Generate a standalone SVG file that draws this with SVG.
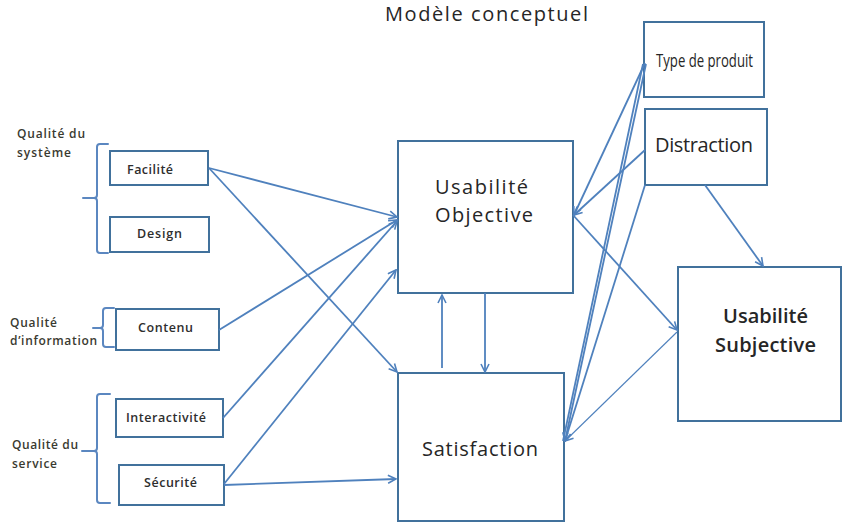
<svg xmlns="http://www.w3.org/2000/svg" width="843" height="527" viewBox="0 0 843 527">
<style>
  .box { fill: #ffffff; stroke: #41719C; stroke-width: 2; }
  .conn { stroke: #4F81BD; stroke-width: 1.8; fill: none; }
  .thin { stroke: #4F81BD; stroke-width: 1.1; fill: none; }
  .brace { stroke: #5B87C0; stroke-width: 2; fill: none; stroke-linecap: round; stroke-linejoin: round; }
  text { font-family: "Open Sans", "Liberation Sans", sans-serif; fill: #262626; }
  .big { font-size: 20px; text-anchor: middle; }
  .small { font-size: 12.5px; text-anchor: middle; font-weight: 600; fill: #2e2e2e; }
  .grp { font-size: 12px; fill: #3a3a30; font-weight: 600; }
</style>
<defs>
  <marker id="ah" viewBox="0 0 10 10" refX="9" refY="5" markerWidth="10" markerHeight="10" markerUnits="userSpaceOnUse" orient="auto">
    <path d="M1,1 L9,5 L1,9" fill="none" stroke="#4F81BD" stroke-width="1.6"/>
  </marker>
</defs>
<rect width="843" height="527" fill="#ffffff"/>

<text x="486.5" y="21" font-size="20" text-anchor="middle" textLength="203" fill="#262626">Modèle conceptuel</text>

<g id="braces">
  <path class="brace" d="M108,144 L100,144 Q97,144 97,147 L97,195 Q97,198 94,198 L83,198 M94,198 Q97,198 97,201 L97,250 Q97,253 100,253 L108,253"/>
  <path class="brace" d="M114,308 L106,308 Q103,308 103,311 L103,325 Q103,328 100,328 L93,328 M100,328 Q103,328 103,331 L103,344 Q103,347 106,347 L114,347"/>
  <path class="brace" d="M110,394 L100,394 Q97,394 97,397 L97,448 Q97,451 94,451 L82,451 M94,451 Q97,451 97,454 L97,500 Q97,503 100,503 L110,503"/>
</g>

<g id="labels">
  <text class="grp" x="17" y="138" textLength="68">Qualité du</text>
  <text class="grp" x="17" y="157" textLength="54">système</text>
  <text class="grp" x="10" y="327" textLength="47">Qualité</text>
  <text class="grp" x="10" y="345" textLength="87">d’information</text>
  <text class="grp" x="12" y="449" textLength="66">Qualité du</text>
  <text class="grp" x="12" y="468" textLength="45">service</text>
</g>

<g id="facilite">
  <rect class="box" x="110" y="151" width="98" height="34"/>
  <text class="small" x="150" y="174" textLength="46">Facilité</text>
</g>
<g id="design">
  <rect class="box" x="110" y="217" width="99" height="35"/>
  <text class="small" x="159.5" y="238" textLength="45">Design</text>
</g>
<g id="contenu">
  <rect class="box" x="116" y="309" width="103" height="41"/>
  <text class="small" x="165.5" y="332" textLength="55">Contenu</text>
</g>
<g id="interactivite">
  <rect class="box" x="116" y="399" width="107" height="38"/>
  <text class="small" x="166" y="422" textLength="80">Interactivité</text>
</g>
<g id="securite">
  <rect class="box" x="119" y="465" width="105" height="40"/>
  <text class="small" x="170.5" y="487" textLength="53">Sécurité</text>
</g>

<g id="usabilite-objective">
  <rect class="box" x="398" y="141" width="175" height="152"/>
  <text class="big" x="481.5" y="194" textLength="93">Usabilité</text>
  <text class="big" x="484" y="222" textLength="98">Objective</text>
</g>
<g id="satisfaction">
  <rect class="box" x="398" y="373" width="166" height="148"/>
  <text class="big" x="480" y="456" font-size="22" textLength="116">Satisfaction</text>
</g>
<g id="type-de-produit">
  <rect class="box" x="644" y="22" width="120" height="75"/>
  <text x="704.5" y="67" font-size="19" text-anchor="middle" textLength="97" lengthAdjust="spacingAndGlyphs" fill="#404040">Type de produit</text>
</g>
<g id="distraction">
  <rect class="box" x="645" y="109" width="122" height="76"/>
  <text class="big" x="704" y="152" font-size="19" textLength="98">Distraction</text>
</g>
<g id="usabilite-subjective">
  <rect class="box" x="678" y="267" width="163" height="154"/>
  <text class="big" x="765.5" y="323" font-size="19" textLength="85" fill="#454545" font-weight="600">Usabilité</text>
  <text class="big" x="765.5" y="352" font-size="19" textLength="101" fill="#454545" font-weight="600">Subjective</text>
</g>

<g id="connectors">
  <line class="conn" x1="209" y1="168" x2="397" y2="217" marker-end="url(#ah)"/>
  <line class="conn" x1="209" y1="168" x2="397" y2="372" marker-end="url(#ah)"/>
  <line class="conn" x1="219" y1="330" x2="397" y2="220" marker-end="url(#ah)"/>
  <line class="conn" x1="223" y1="418" x2="397" y2="221" marker-end="url(#ah)"/>
  <line class="conn" x1="224" y1="484" x2="396" y2="270" marker-end="url(#ah)"/>
  <line class="conn" x1="224" y1="485" x2="396" y2="479" marker-end="url(#ah)"/>
  <line class="conn" x1="442" y1="368" x2="442" y2="295" marker-end="url(#ah)"/>
  <line class="conn" x1="485" y1="293" x2="485" y2="372" marker-end="url(#ah)"/>
  <line class="conn" x1="645" y1="63" x2="574" y2="215" marker-end="url(#ah)"/>
  <line class="conn" x1="645" y1="150" x2="574" y2="215" marker-end="url(#ah)"/>
  <line class="conn" x1="573" y1="215" x2="677" y2="330" marker-end="url(#ah)"/>
  <line class="conn" x1="705" y1="185" x2="763" y2="266" marker-end="url(#ah)"/>
  <line class="conn" x1="643" y1="64" x2="563" y2="441"/>
  <line class="conn" x1="646" y1="64" x2="565" y2="441" marker-end="url(#ah)"/>
  <line class="conn" x1="645" y1="185" x2="565" y2="441" marker-end="url(#ah)"/>
  <line class="thin" x1="677" y1="332" x2="565" y2="441" marker-end="url(#ah)"/>
</g>
</svg>
